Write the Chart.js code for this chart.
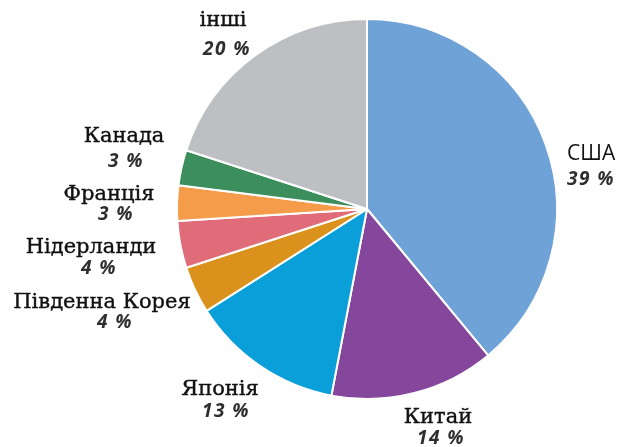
<!DOCTYPE html>
<html>
<head>
<meta charset="utf-8">
<script src="https://cdn.jsdelivr.net/npm/chart.js@4"></script>
<style>
  html, body { margin: 0; padding: 0; background: #fff; }
  #wrap { width: 618px; height: 447px; position: relative; }
</style>
</head>
<body>
<div id="wrap"><canvas id="pie-chart"></canvas></div>
<script>
const countries = ["США", "Китай", "Японія", "Південна Корея", "Нідерланди", "Франція", "Канада", "інші"];
const shares = [39, 14, 13, 4, 4, 3, 3, 20];
const colors = ["#6fa3d8", "#85479b", "#0a9fd9", "#da921c", "#e06b79", "#f59c4b", "#3c8f5d", "#bebfc3"];

// label spots: name baseline (nx, ny), percent baseline (px, py)
const labelSpots = [
  { nx: 567, ny: 160, px: 567, py: 185, align: "left", sans: true },
  { nx: 438, ny: 423, px: 441, py: 444 },
  { nx: 220, ny: 395, px: 226, py: 417 },
  { nx: 102, ny: 308, px: 115, py: 328 },
  { nx: 91, ny: 253, px: 99, py: 274 },
  { nx: 109, ny: 200, px: 116, py: 220 },
  { nx: 124, ny: 142, px: 126, py: 167 },
  { nx: 223, ny: 26, px: 227, py: 55 },
];

const pieLabels = {
  id: "pieLabels",
  afterDraw(chart) {
    const ctx = chart.ctx;
    ctx.save();
    ctx.textBaseline = "alphabetic";
    chart.data.labels.forEach((name, i) => {
      const s = labelSpots[i];
      ctx.textAlign = s.align || "center";
      ctx.fillStyle = "#111";
      ctx.strokeStyle = "#111";
      ctx.lineWidth = 0.4;
      ctx.letterSpacing = "0px";
      ctx.font = s.sans ? "21px 'Open Sans'" : "21px 'DejaVu Serif'";
      ctx.fillText(name, s.nx, s.ny);
      if (!s.sans) ctx.strokeText(name, s.nx, s.ny);
      ctx.fillStyle = "#2e2e2e";
      ctx.letterSpacing = "1.5px";
      ctx.font = "italic bold 19px 'Open Sans'";
      ctx.fillText(chart.data.datasets[0].data[i] + " %", s.px, s.py);
    });
    ctx.restore();
  },
};

new Chart(document.getElementById("pie-chart"), {
  type: "pie",
  data: {
    labels: countries,
    datasets: [
      {
        data: shares,
        backgroundColor: colors,
        borderColor: "#fff",
        borderWidth: 2,
      },
    ],
  },
  options: {
    responsive: true,
    maintainAspectRatio: false,
    animation: false,
    layout: { padding: { left: 176, right: 60, top: 18, bottom: 47 } },
    plugins: {
      legend: { display: false },
      tooltip: { enabled: false },
    },
  },
  plugins: [pieLabels],
});
</script>
</body>
</html>
